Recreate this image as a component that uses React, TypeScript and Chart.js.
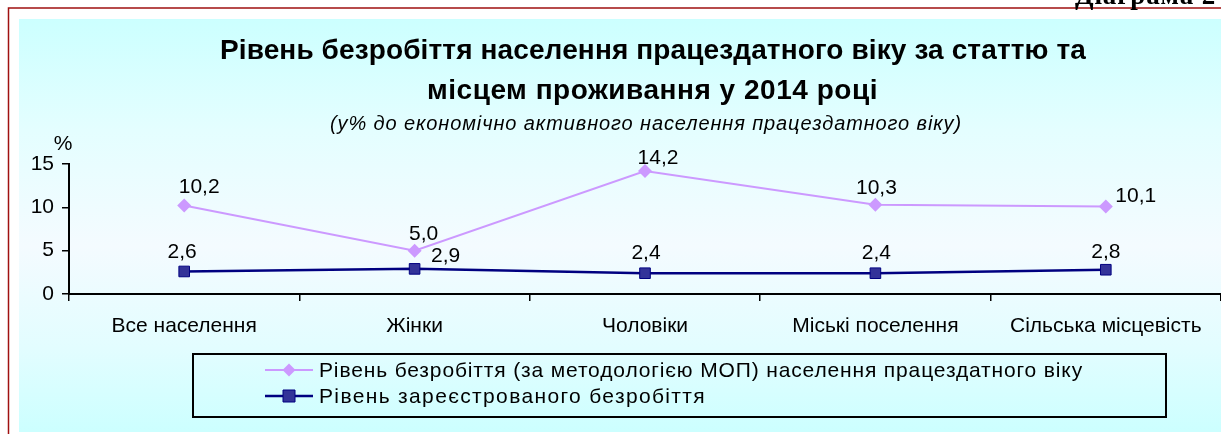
import React, { useEffect, useRef } from "react";
import { Chart, registerables } from "chart.js";

Chart.register(...registerables);

const categories = ["Все населення", "Жінки", "Чоловіки", "Міські поселення", "Сільська місцевість"];
const iloRate = [10.2, 5.0, 14.2, 10.3, 10.1];
const registeredRate = [2.6, 2.9, 2.4, 2.4, 2.8];
const yTicks = [0, 5, 10, 15];
const seriesNames = [
  "Рівень безробіття (за методологією МОП) населення працездатного віку",
  "Рівень зареєстрованого безробіття",
];
const titleLines = [
  "Рівень безробіття населення працездатного віку за статтю та",
  "місцем проживання у 2014 році",
];
const subtitle = "(у% до економічно активного населення працездатного віку)";
const cornerLabel = "Діаграма 2";
const unitLabel = "%";

const SANS = "'Liberation Sans', Arial, sans-serif";
const SERIF = "'Liberation Serif', 'Times New Roman', serif";

// label offsets (dx, dy) from each point, styling only
const labelOffsets = [
  [[15, -18], [9, -16], [13, -13], [1, -17], [30, -10]],
  [[-2, -19], [31, -13], [1, -20], [1, -20], [0, -18]],
];

function fmt(v: number) {
  return v.toFixed(1).replace(".", ",");
}

function drawFitted(ctx: CanvasRenderingContext2D, text: string, left: number, y: number, width: number) {
  (ctx as any).letterSpacing = "0px";
  ctx.textAlign = "left";
  const w = ctx.measureText(text).width;
  const n = Array.from(text).length;
  const ls = (width - w) / n;
  (ctx as any).letterSpacing = ls + "px";
  ctx.fillText(text, left, y);
  (ctx as any).letterSpacing = "0px";
}

const decorPlugin = {
  id: "decor",
  beforeDraw(chart: any) {
    const ctx: CanvasRenderingContext2D = chart.ctx;
    const W = chart.width;
    const H = chart.height;
    ctx.save();
    ctx.fillStyle = "#ffffff";
    ctx.fillRect(0, 0, W, H);
    // panel gradient
    const g = ctx.createLinearGradient(0, 19, 0, 432);
    g.addColorStop(0, "#ccffff");
    g.addColorStop(0.27, "#e4feff");
    g.addColorStop(0.55, "#f4fbff");
    g.addColorStop(0.8, "#e2fdff");
    g.addColorStop(1, "#ccffff");
    ctx.fillStyle = g;
    ctx.fillRect(19, 19, W - 19, 432 - 19);
    // red frame lines
    ctx.strokeStyle = "#a01010";
    ctx.lineWidth = 1.5;
    ctx.beginPath();
    ctx.moveTo(8.5, H);
    ctx.lineTo(8.5, 8);
    ctx.lineTo(W, 8);
    ctx.stroke();
    // corner label
    ctx.fillStyle = "#000";
    ctx.textBaseline = "alphabetic";
    ctx.font = `bold 27px ${SERIF}`;
    drawFitted(ctx, cornerLabel, 1075, 4, 141);
    // title
    ctx.font = `bold 28px ${SANS}`;
    drawFitted(ctx, titleLines[0], 220, 59, 866);
    drawFitted(ctx, titleLines[1], 427, 99, 451);
    ctx.font = `italic 20px ${SANS}`;
    drawFitted(ctx, subtitle, 330, 130, 632);
    ctx.font = `21px ${SANS}`;
    ctx.textAlign = "center";
    ctx.fillText(unitLabel, 63, 150);
    ctx.restore();
  },
  afterDatasetsDraw(chart: any) {
    const ctx: CanvasRenderingContext2D = chart.ctx;
    ctx.save();
    ctx.fillStyle = "#000";
    ctx.font = `21px ${SANS}`;
    ctx.textAlign = "center";
    ctx.textBaseline = "middle";
    chart.data.datasets.forEach((ds: any, di: number) => {
      const meta = chart.getDatasetMeta(di);
      meta.data.forEach((pt: any, i: number) => {
        const [dx, dy] = labelOffsets[di][i];
        ctx.fillText(fmt(ds.data[i]), pt.x + dx, pt.y + dy);
      });
    });
    ctx.restore();
  },
  afterDraw(chart: any) {
    const ctx: CanvasRenderingContext2D = chart.ctx;
    ctx.save();
    // legend box
    ctx.strokeStyle = "#000";
    ctx.lineWidth = 2;
    ctx.strokeRect(193, 354, 973, 63);
    const rows = [370, 396];
    chart.data.datasets.forEach((ds: any, di: number) => {
      const y = rows[di];
      ctx.strokeStyle = ds.borderColor;
      ctx.lineWidth = ds.borderWidth;
      ctx.beginPath();
      ctx.moveTo(265, y);
      ctx.lineTo(313, y);
      ctx.stroke();
      ctx.fillStyle = ds.pointBackgroundColor;
      ctx.strokeStyle = ds.pointBorderColor;
      ctx.lineWidth = 1;
      ctx.beginPath();
      if (ds.pointStyle === "rectRot") {
        const r = 6.5;
        ctx.moveTo(289, y - r);
        ctx.lineTo(289 + r, y);
        ctx.lineTo(289, y + r);
        ctx.lineTo(289 - r, y);
        ctx.closePath();
        ctx.fill();
      } else {
        const s = 6;
        ctx.rect(289 - s, y - s, 2 * s, 2 * s);
        ctx.fill();
        ctx.stroke();
      }
      ctx.fillStyle = "#000";
      ctx.font = `21px ${SANS}`;
      ctx.textBaseline = "middle";
      drawFitted(ctx, seriesNames[di], 319, y + 1, di === 0 ? 764 : 387);
    });
    ctx.restore();
  },
};

export default function App() {
  const ref = useRef<HTMLCanvasElement | null>(null);
  useEffect(() => {
    if (!ref.current) return;
    const chart = new Chart(ref.current, {
      type: "line",
      data: {
        labels: categories,
        datasets: [
          {
            label: seriesNames[0],
            data: iloRate,
            borderColor: "#cc99ff",
            backgroundColor: "#cc99ff",
            borderWidth: 2,
            pointStyle: "rectRot",
            pointRadius: 7,
            pointBackgroundColor: "#cc99ff",
            pointBorderColor: "#cc99ff",
            pointBorderWidth: 0,
            tension: 0,
          },
          {
            label: seriesNames[1],
            data: registeredRate,
            borderColor: "#000080",
            backgroundColor: "#333399",
            borderWidth: 2.5,
            pointStyle: "rect",
            pointRadius: 7.5,
            pointBackgroundColor: "#333399",
            pointBorderColor: "#000080",
            pointBorderWidth: 1,
            tension: 0,
          },
        ],
      },
      options: {
        responsive: false,
        animation: false,
        devicePixelRatio: 1,
        layout: { autoPadding: false, padding: { top: 164, left: 0, right: 0, bottom: 0 } },
        plugins: {
          legend: { display: false },
          tooltip: { enabled: false },
          title: { display: false },
        },
        scales: {
          x: {
            type: "category",
            offset: true,
            grid: {
              offset: true,
              drawOnChartArea: false,
              drawTicks: true,
              tickLength: 7,
              color: "#000",
              lineWidth: 1.5,
            },
            border: { color: "#000", width: 2 },
            ticks: {
              color: "#000",
              font: { family: SANS, size: 21 },
              padding: 13,
              maxRotation: 0,
              autoSkip: false,
            },
            afterFit: (s: any) => {
              s.height = 140;
              s.paddingLeft = 0;
              s.paddingRight = 0;
            },
          },
          y: {
            min: 0,
            max: 15,
            afterBuildTicks: (s: any) => {
              s.ticks = yTicks.map((v) => ({ value: v }));
            },
            grid: {
              drawOnChartArea: false,
              drawTicks: true,
              tickLength: 7,
              color: "#000",
              lineWidth: 1.5,
            },
            border: { color: "#000", width: 2 },
            ticks: {
              color: "#000",
              font: { family: SANS, size: 21 },
              padding: 8,
            },
            afterFit: (s: any) => {
              s.width = 69;
            },
          },
        },
      },
      plugins: [decorPlugin],
    });
    return () => chart.destroy();
  }, []);
  return (
    <div style={{ position: "absolute", left: 0, top: 0, width: 1221, height: 434 }}>
      <canvas ref={ref} width={1221} height={434} style={{ display: "block", width: 1221, height: 434 }} />
    </div>
  );
}
